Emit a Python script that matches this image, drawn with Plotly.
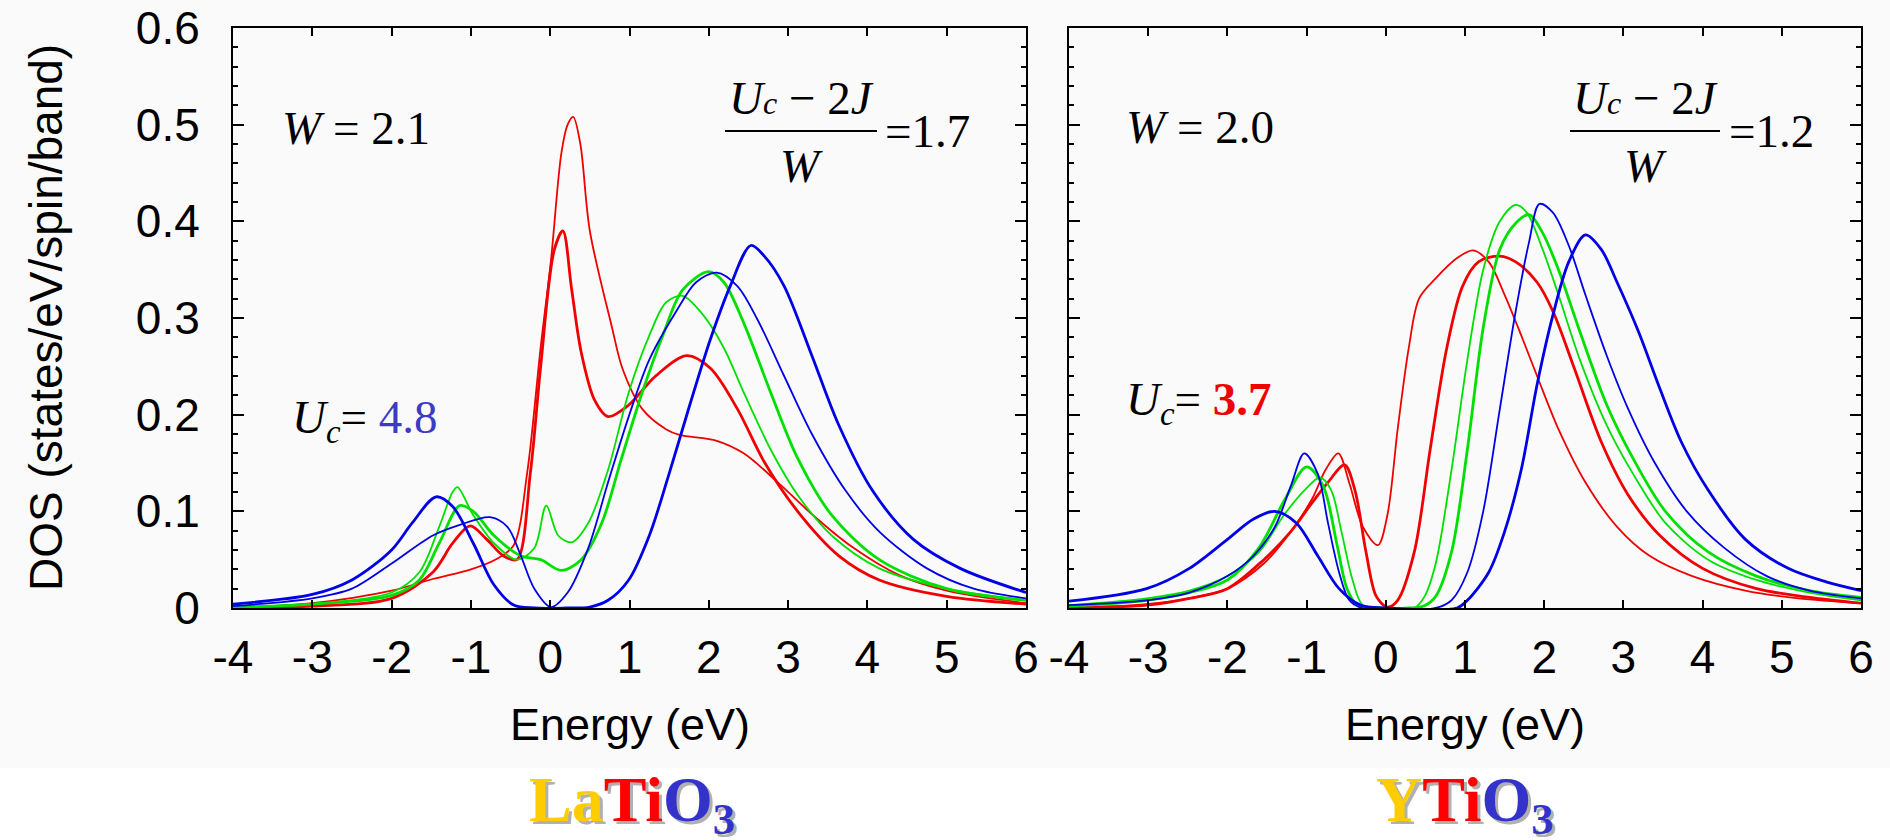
import plotly.graph_objects as go

# ---------------- data: LaTiO3 (left panel) ----------------
la_red_thin_x = [-4, -3, -2, -1.48, -1.0, -0.67, -0.46, -0.29, -0.12, 0.01, 0.14, 0.22, 0.29, 0.38, 0.5, 0.78, 0.91, 1.16, 1.46, 1.63, 2.1, 2.44, 2.87, 3.3, 3.81, 4.4, 5.0, 6.0]
la_red_thin_y = [0.0, 0.005, 0.018, 0.03, 0.04, 0.051, 0.065, 0.14, 0.27, 0.36, 0.47, 0.5, 0.508, 0.48, 0.39, 0.29, 0.248, 0.206, 0.185, 0.179, 0.173, 0.16, 0.13, 0.097, 0.063, 0.034, 0.018, 0.005]

la_red_thick_x = [-4, -3, -2, -1.48, -1.23, -1.01, -0.8, -0.59, -0.42, -0.25, -0.12, 0.05, 0.16, 0.27, 0.39, 0.56, 0.73, 0.99, 1.33, 1.72, 2.02, 2.36, 2.7, 3.12, 3.64, 4.15, 5.0, 6.0]
la_red_thick_y = [0.0, 0.002, 0.01, 0.037, 0.067, 0.085, 0.071, 0.054, 0.05, 0.14, 0.25, 0.37, 0.39, 0.33, 0.265, 0.215, 0.198, 0.21, 0.24, 0.261, 0.248, 0.206, 0.151, 0.10, 0.054, 0.029, 0.012, 0.004]

la_green_thin_x = [-4, -3, -2, -1.65, -1.4, -1.23, -1.17, -0.97, -0.71, -0.42, -0.2, -0.05, 0.1, 0.27, 0.48, 0.73, 0.99, 1.25, 1.46, 1.67, 1.93, 2.19, 2.44, 2.78, 3.12, 3.55, 4.15, 5.0, 6.0]
la_green_thin_y = [0.001, 0.004, 0.016, 0.037, 0.084, 0.12, 0.125, 0.096, 0.067, 0.05, 0.062, 0.106, 0.075, 0.068, 0.088, 0.143, 0.223, 0.282, 0.316, 0.323, 0.303, 0.269, 0.223, 0.164, 0.117, 0.075, 0.041, 0.02, 0.008]

la_green_thick_x = [-4, -3, -2, -1.65, -1.4, -1.14, -0.97, -0.71, -0.37, -0.12, 0.14, 0.39, 0.65, 0.9, 1.16, 1.42, 1.67, 2.0, 2.19, 2.44, 2.78, 3.12, 3.55, 4.15, 5.0, 6.0]
la_green_thick_y = [0.001, 0.004, 0.013, 0.029, 0.067, 0.106, 0.10, 0.075, 0.054, 0.05, 0.039, 0.05, 0.088, 0.155, 0.223, 0.282, 0.329, 0.348, 0.337, 0.295, 0.223, 0.155, 0.096, 0.05, 0.02, 0.008]

la_blue_a_x = [-4, -3, -2.5, -2, -1.74, -1.44, -1.23, -0.97, -0.71, -0.46, -0.2, 0.2, 0.5, 0.73, 0.99, 1.25, 1.5, 1.76, 2.02, 2.27, 2.53, 2.7, 2.95, 3.3, 3.64, 4.06, 4.58, 5.17, 6.0]
la_blue_a_y = [0.004, 0.014, 0.029, 0.06, 0.088, 0.115, 0.105, 0.067, 0.024, 0.003, 0.0, 0.0, 0.001, 0.008, 0.029, 0.075, 0.139, 0.21, 0.278, 0.333, 0.375, 0.364, 0.333, 0.261, 0.189, 0.122, 0.071, 0.041, 0.016]

la_blue_b_x = [-4, -3, -2.5, -2, -1.48, -1.14, -0.76, -0.54, -0.37, -0.2, 0.01, 0.22, 0.48, 0.73, 0.99, 1.25, 1.59, 1.84, 2.1, 2.36, 2.61, 2.95, 3.3, 3.72, 4.15, 4.75, 5.34, 6.0]
la_blue_b_y = [0.002, 0.01, 0.02, 0.046, 0.075, 0.086, 0.094, 0.084, 0.054, 0.02, 0.001, 0.016, 0.062, 0.13, 0.198, 0.257, 0.307, 0.337, 0.347, 0.333, 0.299, 0.24, 0.18, 0.122, 0.079, 0.041, 0.02, 0.01]

# ---------------- data: YTiO3 (right panel) ----------------
y_red_thin_x = [-4, -3.02, -2.48, -2.0, -1.54, -1.2, -0.93, -0.76, -0.6, -0.46, -0.29, -0.1, 0.02, 0.15, 0.29, 0.42, 0.63, 0.9, 1.1, 1.3, 1.5, 1.71, 1.91, 2.18, 2.52, 2.92, 3.33, 3.87, 4.54, 5.21, 6.0]
y_red_thin_y = [0.0, 0.004, 0.01, 0.02, 0.046, 0.079, 0.113, 0.143, 0.16, 0.129, 0.084, 0.065, 0.096, 0.185, 0.269, 0.32, 0.341, 0.362, 0.37, 0.358, 0.324, 0.282, 0.24, 0.185, 0.13, 0.084, 0.054, 0.033, 0.018, 0.01, 0.005]

y_red_thick_x = [-4, -3.02, -2.48, -2.0, -1.54, -1.2, -0.93, -0.73, -0.52, -0.39, -0.25, -0.12, 0.02, 0.15, 0.36, 0.56, 0.77, 0.97, 1.17, 1.44, 1.64, 1.91, 2.11, 2.38, 2.72, 3.06, 3.46, 4.0, 4.68, 5.35, 6.0]
y_red_thick_y = [0.0, 0.003, 0.01, 0.02, 0.05, 0.079, 0.109, 0.13, 0.148, 0.122, 0.058, 0.012, 0.001, 0.008, 0.058, 0.164, 0.269, 0.333, 0.358, 0.364, 0.358, 0.337, 0.307, 0.248, 0.172, 0.117, 0.075, 0.041, 0.02, 0.011, 0.005]

y_green_thin_x = [-4, -3.02, -2.48, -2.0, -1.6, -1.27, -1.0, -0.83, -0.69, -0.56, -0.42, -0.29, 0.0, 0.36, 0.49, 0.63, 0.83, 1.03, 1.23, 1.44, 1.64, 1.78, 1.98, 2.18, 2.45, 2.79, 3.12, 3.53, 4.07, 4.68, 5.35, 6.0]
y_green_thin_y = [0.003, 0.01, 0.018, 0.033, 0.058, 0.098, 0.124, 0.135, 0.122, 0.079, 0.029, 0.003, 0.0, 0.0, 0.012, 0.046, 0.143, 0.257, 0.35, 0.40, 0.417, 0.409, 0.371, 0.324, 0.257, 0.189, 0.139, 0.088, 0.05, 0.029, 0.016, 0.008]

y_green_thick_x = [-4, -3.02, -2.48, -2.0, -1.6, -1.27, -1.0, -0.79, -0.62, -0.49, -0.36, -0.1, 0.3, 0.48, 0.63, 0.83, 1.03, 1.23, 1.44, 1.64, 1.81, 1.98, 2.18, 2.45, 2.79, 3.12, 3.53, 4.07, 4.68, 5.35, 6.0]
y_green_thick_y = [0.002, 0.008, 0.016, 0.029, 0.0625, 0.113, 0.146, 0.126, 0.067, 0.02, 0.003, 0.0, 0.0, 0.002, 0.012, 0.058, 0.164, 0.29, 0.371, 0.398, 0.407, 0.388, 0.35, 0.286, 0.21, 0.155, 0.10, 0.058, 0.033, 0.018, 0.011]

y_blue_a_x = [-4, -3.02, -2.48, -2.0, -1.67, -1.4, -1.13, -0.86, -0.59, -0.32, 0.0, 0.9, 1.03, 1.3, 1.5, 1.71, 1.91, 2.11, 2.31, 2.52, 2.72, 2.92, 3.19, 3.46, 3.73, 4.07, 4.54, 5.08, 5.56, 6.0]
y_blue_a_y = [0.007, 0.02, 0.041, 0.071, 0.092, 0.10, 0.088, 0.054, 0.02, 0.003, 0.0, 0.0, 0.008, 0.037, 0.079, 0.143, 0.231, 0.303, 0.358, 0.386, 0.371, 0.337, 0.286, 0.227, 0.172, 0.122, 0.071, 0.041, 0.027, 0.018]

y_blue_b_x = [-4, -3.02, -2.48, -2.0, -1.67, -1.4, -1.2, -1.03, -0.86, -0.73, -0.59, -0.46, -0.3, 0.63, 0.83, 1.03, 1.23, 1.44, 1.64, 1.81, 1.94, 2.11, 2.31, 2.52, 2.79, 3.06, 3.39, 3.8, 4.27, 4.81, 5.35, 6.0]
y_blue_b_y = [0.003, 0.008, 0.016, 0.033, 0.054, 0.084, 0.126, 0.16, 0.139, 0.088, 0.037, 0.008, 0.0, 0.0, 0.008, 0.037, 0.10, 0.206, 0.307, 0.379, 0.418, 0.409, 0.375, 0.324, 0.261, 0.206, 0.151, 0.10, 0.0625, 0.033, 0.018, 0.01]

# ---------------- ticks / labels ----------------
x_tick_vals = [-4, -3, -2, -1, 0, 1, 2, 3, 4, 5, 6]
x_tick_text = ["-4", "-3", "-2", "-1", "0", "1", "2", "3", "4", "5", "6"]
y_tick_vals = [0, 0.1, 0.2, 0.3, 0.4, 0.5, 0.6]
y_tick_text = ["0", "0.1", "0.2", "0.3", "0.4", "0.5", "0.6"]

RED = "#f00000"
GREEN = "#00e000"
BLUE = "#0000e6"
THIN = 1.8
THICK = 2.8

W, H = 1890, 840
def px(x):
    return x / W
def py(y):
    return 1 - y / H

fig = go.Figure()

left_curves = [
    (la_red_thin_x, la_red_thin_y, RED, THIN),
    (la_red_thick_x, la_red_thick_y, RED, THICK),
    (la_green_thin_x, la_green_thin_y, GREEN, THIN),
    (la_green_thick_x, la_green_thick_y, GREEN, THICK),
    (la_blue_b_x, la_blue_b_y, BLUE, THIN),
    (la_blue_a_x, la_blue_a_y, BLUE, THICK),
]
right_curves = [
    (y_red_thin_x, y_red_thin_y, RED, THIN),
    (y_red_thick_x, y_red_thick_y, RED, THICK),
    (y_green_thin_x, y_green_thin_y, GREEN, THIN),
    (y_green_thick_x, y_green_thick_y, GREEN, THICK),
    (y_blue_b_x, y_blue_b_y, BLUE, THIN),
    (y_blue_a_x, y_blue_a_y, BLUE, THICK),
]
for xs, ys, c, w in left_curves:
    fig.add_trace(go.Scatter(x=xs, y=ys, mode="lines", xaxis="x", yaxis="y",
                             line=dict(color=c, width=w, shape="spline", smoothing=0.9),
                             showlegend=False, hoverinfo="skip"))
for xs, ys, c, w in right_curves:
    fig.add_trace(go.Scatter(x=xs, y=ys, mode="lines", xaxis="x2", yaxis="y2",
                             line=dict(color=c, width=w, shape="spline", smoothing=0.9),
                             showlegend=False, hoverinfo="skip"))

sans = "Liberation Sans, Arial, sans-serif"
serif = "Liberation Serif, Times New Roman, serif"
tick_font = dict(family=sans, size=46, color="black")
xax = dict(range=[-4, 6], tickmode="array", tickvals=x_tick_vals, ticktext=x_tick_text,
           ticks="inside", ticklen=8, tickwidth=2, tickcolor="black",
           showline=True, linewidth=2, linecolor="black", mirror="ticks",
           showgrid=False, zeroline=False, tickfont=tick_font, ticklabelstandoff=8,
           ticklabeloverflow="allow", automargin=False, fixedrange=True)
yax = dict(range=[0, 0.6], tickmode="array", tickvals=y_tick_vals, ticktext=y_tick_text,
           ticks="inside", ticklen=11, tickwidth=2, tickcolor="black",
           minor=dict(tick0=0, dtick=0.02, ticks="inside", ticklen=5, tickwidth=1.5, tickcolor="black"),
           showline=True, linewidth=2, linecolor="black", mirror="ticks",
           showgrid=False, zeroline=False, tickfont=tick_font, ticklabelstandoff=22,
           ticklabeloverflow="allow", automargin=False, fixedrange=True)

ydom = [py(608), py(28)]
fig.update_layout(
    template="none",
    width=W, height=H,
    autosize=False,
    margin=dict(l=0, r=0, t=0, b=0, pad=0, autoexpand=False),
    paper_bgcolor="white", plot_bgcolor="white",
    xaxis=dict(xax, domain=[px(233), px(1026)], anchor="y"),
    yaxis=dict(yax, domain=ydom, anchor="x"),
    xaxis2=dict(xax, domain=[px(1069), px(1861)], anchor="y2"),
    yaxis2=dict(yax, domain=ydom, anchor="x2", showticklabels=False),
)

# light background band behind the plot region
fig.add_shape(type="rect", xref="paper", yref="paper", x0=0, x1=1, y0=py(768), y1=1,
              fillcolor="#fafafa", line=dict(width=0), layer="below")

ann = []
def add(text, x, y, size=47, xanchor="left", yanchor="middle", family=serif, color="black", angle=0):
    ann.append(dict(text=text, x=px(x), y=py(y), xref="paper", yref="paper", showarrow=False,
                    xanchor=xanchor, yanchor=yanchor, textangle=angle, borderpad=0,
                    font=dict(family=family, size=size, color=color)))

# left panel texts
add("<i>W</i> = 2.1", 281, 128)
add("<i>U</i><span style='font-size:32px'><i>c</i></span> − 2<i>J</i>", 801, 98, xanchor="center")
add("<i>W</i>", 801, 166, xanchor="center")
add("=1.7", 884, 131)
add("<i>U<sub>c</sub></i>= <span style='color:#3b3bc4'>4.8</span>", 291, 420)
# right panel texts
add("<i>W</i> = 2.0", 1125, 127)
add("<i>U</i><span style='font-size:32px'><i>c</i></span> − 2<i>J</i>", 1645, 98, xanchor="center")
add("<i>W</i>", 1645, 166, xanchor="center")
add("=1.2", 1728, 131)
add("<i>U<sub>c</sub></i>= <b><span style='color:#f00000'>3.7</span></b>", 1125, 402)

# axis titles
add("Energy (eV)", 630, 724, size=45, xanchor="center", family=sans)
add("Energy (eV)", 1465, 724, size=45, xanchor="center", family=sans)
add("DOS (states/eV/spin/band)", 46, 318, size=46, xanchor="center", family=sans, angle=-90)

# compound names with drop shadow
la_txt = "<b><span style='color:{a}'>La</span><span style='color:{b}'>Ti</span><span style='color:{c}'>O<sub>3</sub></span></b>"
y_txt = "<b><span style='color:{a}'>Y</span><span style='color:{b}'>Ti</span><span style='color:{c}'>O<sub>3</sub></span></b>"
shadow = dict(a="#b0b0b0", b="#b0b0b0", c="#b0b0b0")
colors = dict(a="#ffcc00", b="#ff0000", c="#3333cc")
add(la_txt.format(**shadow), 635, 807, size=64, xanchor="center")
add(la_txt.format(**colors), 632, 804, size=64, xanchor="center")
add(y_txt.format(**shadow), 1468, 807, size=64, xanchor="center")
add(y_txt.format(**colors), 1465, 804, size=64, xanchor="center")

fig.update_layout(annotations=ann)

# fraction bars
for x0, x1 in [(725, 877), (1570, 1720)]:
    fig.add_shape(type="line", xref="paper", yref="paper", x0=px(x0), x1=px(x1), y0=py(131), y1=py(131),
                  line=dict(color="black", width=2))

fig.write_html("out.html", config={"displayModeBar": False},
               post_script="document.body.style.margin='0';")
